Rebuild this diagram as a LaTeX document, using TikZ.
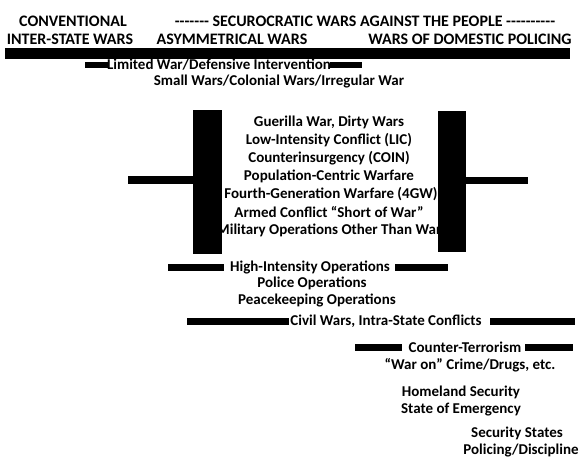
\documentclass[tikz,border=0pt]{standalone}
\usepackage{fontspec}
\setmainfont{Carlito}
\usepackage{tikz}
\usetikzlibrary{positioning,calc}

\tikzset{
  head/.style={font=\fontsize{16}{18}\selectfont\bfseries,inner sep=0pt},
  item/.style={font=\fontsize{15}{17}\selectfont\bfseries,inner sep=0pt},
}

\begin{document}
\begin{tikzpicture}[x=1pt,y=-1pt]
\useasboundingbox (0,0) rectangle (581,459);
% header
\node[head] (conv) at (73,21) {CONVENTIONAL};
\node[head] (secu) at (365,21) {-{}-{}-{}-{}-{}-{}- SECUROCRATIC WARS AGAINST THE PEOPLE -{}-{}-{}-{}-{}-{}-{}-{}-{}-};
\node[head] (inter) at (70,39) {INTER-STATE WARS};
\node[head] (asym) at (232,39) {ASYMMETRICAL WARS};
\node[head] (dom) at (470,39) {WARS OF DOMESTIC POLICING};
\fill (5,48) rectangle (570,59);
% rows
\node[item] (lim) at (219,65) {Limited War/Defensive Intervention};
\fill (85,62) rectangle (108,68);
\fill (330,62) rectangle (362,68);
\node[item] (small) at (279,82) {Small Wars/Colonial Wars/Irregular War};
% asymmetrical block
\node[item] (guer) at (329,122) {Guerilla War, Dirty Wars};
\node[item] (lic) at (329,140) {Low-Intensity Conflict (LIC)};
\node[item] (coin) at (329,158) {Counterinsurgency (COIN)};
\node[item] (pop) at (329,176) {Population-Centric Warfare};
\node[item] (fgw) at (331,194) {Fourth-Generation Warfare (4GW)};
\node[item] (arm) at (329,212) {Armed Conflict ``Short of War''};
\node[item] (moo) at (329,230) {Military Operations Other Than War};
\fill (193,110) rectangle (222,254);
\fill (438,111) rectangle (466,252);
\fill (128,176) rectangle (193,184);
\fill (466,177) rectangle (528,184);
% operations
\node[item] (hio) at (310,267) {High-Intensity Operations};
\fill (168,264) rectangle (224,271);
\fill (395,264) rectangle (448,271);
\node[item] (pol) at (312,283) {Police Operations};
\node[item] (pko) at (317,300) {Peacekeeping Operations};
\node[item] (civ) at (386,321) {Civil Wars, Intra-State Conflicts};
\fill (187,318) rectangle (289,325);
\fill (490,318) rectangle (575,325);
% domestic policing
\node[item] (cter) at (465,347) {Counter-Terrorism};
\fill (355,344) rectangle (402,351);
\fill (525,344) rectangle (573,351);
\node[item] (crime) at (470,365) {``War on'' Crime/Drugs, etc.};
\node[item] (home) at (461,392) {Homeland Security};
\node[item] (emer) at (461,410) {State of Emergency};
\node[item] (sst) at (517,433) {Security States};
\node[item] (disc) at (521,450) {Policing/Discipline};
\end{tikzpicture}
\end{document}
